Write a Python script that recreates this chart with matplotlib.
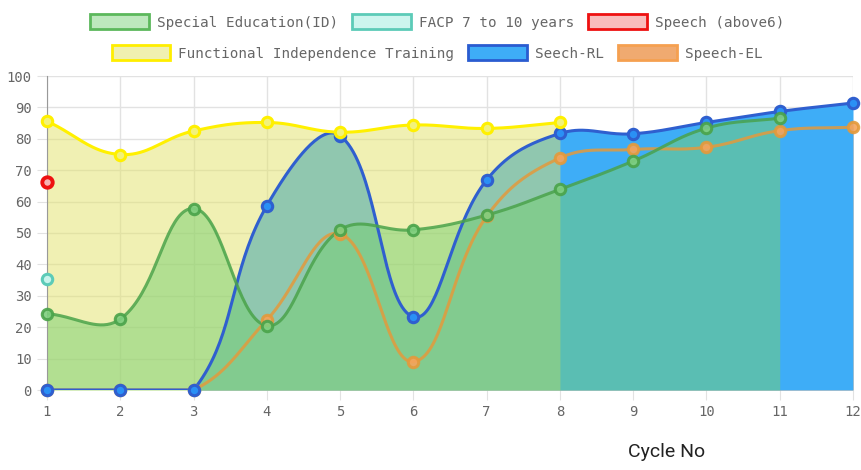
import numpy as np
import matplotlib.pyplot as plt
from matplotlib.patches import Patch

# data
cycles = list(range(1, 13))
special_edu = [24.3, 22.6, 57.8, 20.5, 51.0, 51.0, 55.7, 63.9, 72.9, 83.4, 86.6]
facp = [35.5]
speech_above6 = [66.3]
functional = [85.6, 75.0, 82.5, 85.2, 82.1, 84.4, 83.3, 85.2]
seech_rl = [0, 0, 0, 58.7, 81.0, 23.3, 66.9, 81.7, 81.6, 85.2, 88.7, 91.4]
speech_el = [0, 0, 0, 22.3, 49.7, 9.0, 55.3, 73.9, 76.6, 77.3, 82.6, 83.7]

names = ["Special Education(ID)", "FACP 7 to 10 years", "Speech (above6)",
         "Functional Independence Training", "Seech-RL", "Speech-EL"]
series = [special_edu, facp, speech_above6, functional, seech_rl, speech_el]

# style per dataset: fill, fill alpha, line, point face, legend face, legend edge
fills = ["#76cf71", "#9eeede", "#f49a9a", "#e2e269", "#3eadf7", "#f0a060"]
fill_alpha = [0.5, 0.5, 0.5, 0.5, 1.0, 1.0]
lines = ["#4aa34a", "#5ccbb8", "#ee1111", "#fff000", "#2f5fcf", "#e39a3c"]
faces = ["#7fcf7f", "#c8f4ec", "#f6b3b3", "#f2f27a", "#2a90f5", "#f5a45c"]
leg_face = ["#bde8bd", "#ccf5ee", "#f9bcbc", "#f0f0b0", "#3eadf7", "#f0aa70"]
leg_edge = ["#5cb85c", "#5ccbb8", "#ee1111", "#ffee00", "#2a5cd0", "#f5a050"]

SX = 806 / 11.0   # px per x unit
SY = 314 / 100.0  # px per y unit


def spline(xs, ys, t=0.4, n=40):
    # bezier smoothing like chart.js (tension 0.4, points capped to area)
    px = np.asarray(xs, float) * SX
    py = np.asarray(ys, float) * SY
    m = len(px)
    if m == 1:
        return np.asarray(xs, float), np.asarray(ys, float)
    cps = []
    for i in range(m):
        p = max(i - 1, 0)
        q = min(i + 1, m - 1)
        d01 = np.hypot(px[i] - px[p], py[i] - py[p])
        d12 = np.hypot(px[q] - px[i], py[q] - py[i])
        tot = d01 + d12
        s01 = d01 / tot if tot else 0
        s12 = d12 / tot if tot else 0
        dx = px[q] - px[p]
        dy = py[q] - py[p]
        a = [px[i] - t * s01 * dx, py[i] - t * s01 * dy]
        b = [px[i] + t * s12 * dx, py[i] + t * s12 * dy]
        for c in (a, b):
            c[0] = min(max(c[0], 1 * SX), 12 * SX)
            c[1] = min(max(c[1], 0), 100 * SY)
        cps.append((a, b))
    u = np.linspace(0, 1, n)[:, None]
    out = []
    for i in range(m - 1):
        P0 = np.array([px[i], py[i]])
        P1 = np.array(cps[i][1])
        P2 = np.array(cps[i + 1][0])
        P3 = np.array([px[i + 1], py[i + 1]])
        seg = ((1 - u) ** 3) * P0 + 3 * ((1 - u) ** 2) * u * P1 + 3 * (1 - u) * u ** 2 * P2 + u ** 3 * P3
        out.append(seg if i == 0 else seg[1:])
    out = np.vstack(out)
    return out[:, 0] / SX, out[:, 1] / SY


fig = plt.figure(figsize=(8.62, 4.70), dpi=100)
ax = fig.add_axes([47 / 862, 80 / 470, 806 / 862, 314 / 470])

order = list(range(len(series)))[::-1]  # first dataset on top
for k, i in enumerate(order):
    ys = series[i]
    xs = cycles[:len(ys)]
    cx, cy = spline(xs, ys)
    if len(ys) > 1:
        ax.fill_between(cx, cy, 0, color=fills[i], alpha=fill_alpha[i], lw=0, zorder=2 + k * 0.1)

for k, i in enumerate(order):
    ys = series[i]
    xs = cycles[:len(ys)]
    cx, cy = spline(xs, ys)
    la = 0.85 if i in (0, 5) else 1.0
    if len(ys) > 1:
        ax.plot(cx, cy, color=lines[i], lw=2.2, alpha=la, zorder=4 + k * 0.1,
                solid_capstyle="round")
    ax.plot(xs, ys, ls="none", marker="o", ms=7.5, mfc=faces[i], mec=lines[i],
            mew=2.2 if i != 2 else 2.8, alpha=0.9 if i in (0, 5) else 1.0,
            zorder=5 + k * 0.1, clip_on=False)

ax.set_xlim(1, 12)
ax.set_ylim(0, 100)
ax.set_xticks(cycles)
ax.set_yticks(range(0, 101, 10))
ax.set_axisbelow(True)
ax.grid(True, color="#e2e2e2", lw=1)
for s in ("top", "right", "bottom"):
    ax.spines[s].set_visible(False)
ax.spines["left"].set_color("#999999")
ax.tick_params(length=7, color="#e2e2e2", labelcolor="#666666", labelsize=10, pad=4)
for lab in ax.get_xticklabels() + ax.get_yticklabels():
    lab.set_family("DejaVu Sans Mono")

fig.text(667 / 862, 1 - 452 / 470, "Cycle No", family="Roboto", fontsize=14,
         color="#222222", ha="center", va="center")

# legend in two centred rows
handles = [Patch(facecolor=leg_face[i], edgecolor=leg_edge[i], lw=2) for i in range(6)]
for row, yy in ((0, 22), (1, 53)):
    idx = range(row * 3, row * 3 + 3)
    fig.legend([handles[i] for i in idx], [names[i] for i in idx], loc="center",
               bbox_to_anchor=(437 / 862, 1 - yy / 470), ncol=3, frameon=False,
               prop={"family": "DejaVu Sans Mono", "size": 10.3}, labelcolor="#666666",
               handlelength=4.1, handleheight=1.2, handletextpad=0.55,
               columnspacing=1.0, borderaxespad=0, borderpad=0)

plt.savefig("out.png", dpi=100)
